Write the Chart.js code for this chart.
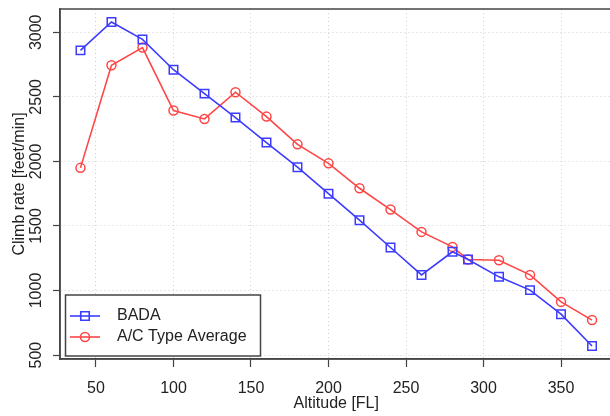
<!DOCTYPE html>
<html>
<head>
<meta charset="utf-8">
<title>Climb rate vs altitude</title>
<script src="https://cdn.jsdelivr.net/npm/chart.js@4.4.1/dist/chart.umd.min.js"></script>
<style>
html, body { margin: 0; padding: 0; overflow: hidden; background: #fff; }
#wrap { width: 620px; height: 416px; }
</style>
</head>
<body>
<div id="wrap"><canvas id="climbChart" width="620" height="416"></canvas></div>
<script>
// data
const altitudes = [40, 60, 80, 100, 120, 140, 160, 180, 200, 220, 240, 260, 280, 290, 310, 330, 350, 370];
const badaRates = [2860, 3080, 2945, 2710, 2525, 2340, 2146, 1955, 1750, 1545, 1333, 1121, 1300, 1240, 1106, 1003, 817, 570];
const acTypeAverage = [1950, 2745, 2882, 2394, 2329, 2536, 2347, 2132, 1985, 1792, 1627, 1454, 1338, 1240, 1235, 1121, 912, 771];
const xTicks = [50, 100, 150, 200, 250, 300, 350];
const yTicks = [500, 1000, 1500, 2000, 2500, 3000];

const fontFamily = '"Liberation Sans", Arial, Helvetica, sans-serif';
const textColor = '#222';
const axisColor = '#444';
const blue = 'rgb(60,60,255)';
const red = 'rgb(255,70,70)';

const toPoints = (xs, ys) => xs.map((x, i) => ({x: x, y: ys[i]}));

// R style frame, rotated y labels and the bottom-left legend
const rStyle = {
    id: 'rStyle',
    afterDraw(chart) {
        const {ctx, chartArea, scales} = chart;
        ctx.save();
        ctx.fillStyle = textColor;
        ctx.font = '16px ' + fontFamily;
        ctx.textAlign = 'center';
        ctx.textBaseline = 'middle';
        yTicks.forEach(v => {
            const y = scales.y.getPixelForValue(v);
            ctx.save();
            ctx.translate(37, y);
            ctx.rotate(-Math.PI / 2);
            ctx.fillText(String(v), 0, 0);
            ctx.restore();
        });

        ctx.strokeStyle = axisColor;
        ctx.lineWidth = 1.5;
        ctx.strokeRect(chartArea.left, chartArea.top, chartArea.width, chartArea.height);

        // legend box
        const bx = chartArea.left + 5.5, bw = 195, bh = 61;
        const by = chartArea.bottom - 3 - bh;
        ctx.fillStyle = '#fff';
        ctx.fillRect(bx, by, bw, bh);
        ctx.strokeRect(bx, by, bw, bh);
        chart.data.datasets.forEach((ds, i) => {
            const y = by + 21 + i * 21;
            const mx = bx + 19.5;
            ctx.strokeStyle = ds.borderColor;
            ctx.lineWidth = ds.borderWidth;
            ctx.beginPath();
            ctx.moveTo(bx + 4.5, y);
            ctx.lineTo(bx + 34.5, y);
            ctx.stroke();
            ctx.beginPath();
            if (ds.pointStyle === 'rect') {
                const s = ds.pointRadius * Math.SQRT1_2;
                ctx.rect(mx - s, y - s, 2 * s, 2 * s);
            } else {
                ctx.arc(mx, y, ds.pointRadius, 0, Math.PI * 2);
            }
            ctx.stroke();
            ctx.fillStyle = textColor;
            ctx.textAlign = 'left';
            ctx.fillText(ds.label, bx + 51.5, y);
        });
        ctx.restore();
    }
};

new Chart(document.getElementById('climbChart'), {
    type: 'line',
    data: {
        datasets: [{
            label: 'BADA',
            data: toPoints(altitudes, badaRates),
            borderColor: blue,
            borderWidth: 1.6,
            pointStyle: 'rect',
            pointRadius: 6,
            pointBorderWidth: 1.5,
            pointBorderColor: blue,
            pointBackgroundColor: 'rgba(0,0,0,0)',
            tension: 0
        }, {
            label: 'A/C Type Average',
            data: toPoints(altitudes, acTypeAverage),
            borderColor: red,
            borderWidth: 1.6,
            pointStyle: 'circle',
            pointRadius: 4.5,
            pointBorderWidth: 1.5,
            pointBorderColor: red,
            pointBackgroundColor: 'rgba(0,0,0,0)',
            tension: 0
        }]
    },
    options: {
        responsive: false,
        animation: false,
        devicePixelRatio: 1,
        layout: {padding: {top: 9, right: 5.5, left: 0, bottom: 0}},
        plugins: {legend: {display: false}, tooltip: {enabled: false}},
        scales: {
            x: {
                type: 'linear',
                min: 26.8,
                max: 383.2,
                afterBuildTicks: scale => { scale.ticks = xTicks.map(v => ({value: v})); },
                afterFit: scale => { scale.height = 57; },
                grid: {color: '#cfcfcf', tickColor: axisColor, tickLength: 8, tickWidth: 1.2},
                border: {dash: [1, 3], color: axisColor, width: 1.5},
                ticks: {font: {size: 16, family: fontFamily}, color: textColor, padding: 12, maxRotation: 0},
                title: {display: true, text: 'Altitude [FL]', color: textColor,
                    font: {size: 16, family: fontFamily}, padding: {top: 0, bottom: 3}}
            },
            y: {
                min: 469.6,
                max: 3180.4,
                afterBuildTicks: scale => { scale.ticks = yTicks.map(v => ({value: v})); },
                afterFit: scale => { scale.width = 60; },
                grid: {color: '#cfcfcf', tickColor: axisColor, tickLength: 7, tickWidth: 1.2},
                border: {dash: [1, 3], color: axisColor, width: 1.5},
                ticks: {display: false},
                title: {display: true, text: 'Climb rate [feet/min]', color: textColor,
                    font: {size: 16, family: fontFamily}, padding: {top: 10, bottom: 0}}
            }
        }
    },
    plugins: [rStyle]
});
</script>
</body>
</html>
